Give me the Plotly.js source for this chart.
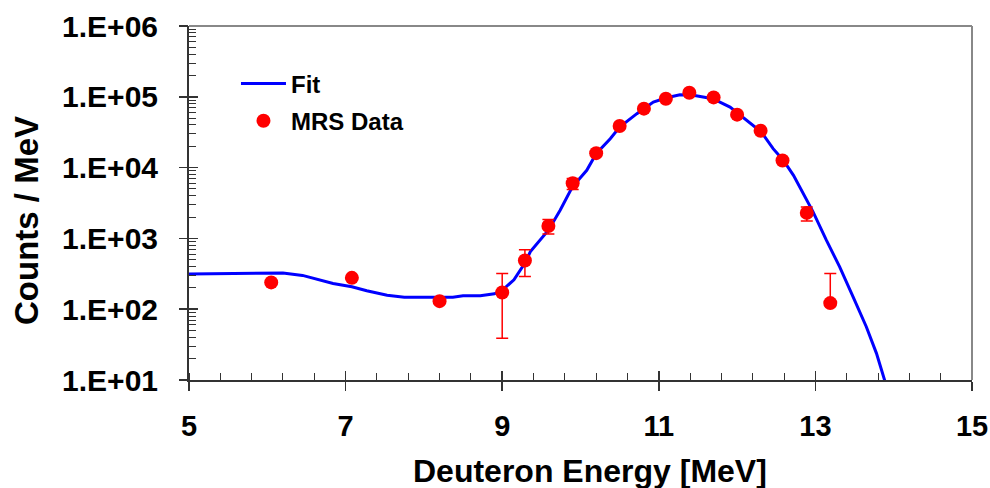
<!DOCTYPE html>
<html>
<head>
<meta charset="utf-8">
<script src="https://cdn.plot.ly/plotly-3.0.1.min.js"></script>
<style>html,body{margin:0;padding:0;background:#fff;}#chart{width:990px;height:488px;}</style>
</head>
<body>
<div id="chart"></div>
<script>
// Fit curve (Deuteron energy [MeV], counts / MeV)
const fitEnergy = [5.0, 5.3, 5.6, 5.9, 6.2, 6.45, 6.84, 7.08, 7.27, 7.53, 7.75, 8.0, 8.37, 8.5, 8.72, 8.9, 9.0, 9.15, 9.29, 9.36, 9.59, 9.74, 9.895, 10.08, 10.2, 10.38, 10.5, 10.72, 10.93, 11.1, 11.27, 11.44, 11.69, 11.91, 12.12, 12.31, 12.46, 12.59, 12.72, 12.84, 12.97, 13.14, 13.31, 13.48, 13.65, 13.78, 13.91];
const fitCounts = [315, 318, 320, 325, 325, 300, 231, 207, 182, 157, 148, 148, 148, 155, 155, 165, 185, 260, 450, 650, 1306, 2500, 5320, 9160, 15700, 25600, 37400, 57800, 84100, 97000, 107000, 105000, 94000, 71600, 46500, 31800, 18500, 12700, 7780, 4300, 2370, 944, 396, 150, 56.5, 23.8, 8];

// MRS data points
const dataEnergy = [6.05, 7.08, 8.20, 9.00, 9.29, 9.59, 9.90, 10.20, 10.50, 10.81, 11.09, 11.39, 11.70, 12.00, 12.30, 12.58, 12.89, 13.19];
const dataCounts = [239, 277, 130, 172, 488, 1500, 6000, 16000, 38600, 68000, 94000, 114000, 98000, 56000, 33200, 12600, 2290, 122];
const errPlus  = [0, 0, 0, 148, 201, 346, 1000, 0, 0, 0, 0, 0, 0, 0, 0, 0, 490, 198];
const errMinus = [0, 0, 0, 133, 198, 343, 1100, 0, 0, 0, 0, 0, 0, 0, 0, 0, 524, 0];

// Axis ticks
const xTickVals = [5, 7, 9, 11, 13, 15];
const yTickVals = [10, 100, 1000, 10000, 100000, 1000000];
const yTickText = ['1.E+01', '1.E+02', '1.E+03', '1.E+04', '1.E+05', '1.E+06'];

const FONT = 'Liberation Sans, Arial, sans-serif';
const AX = '#333';

const traces = [
  {
    x: fitEnergy, y: fitCounts, type: 'scatter', mode: 'lines', name: 'Fit', legendgroup: 'fit',
    line: {color: '#0000FF', width: 3}
  },
  {
    x: dataEnergy, y: dataCounts, type: 'scatter', mode: 'markers', name: 'MRS Data', legendgroup: 'mrs',
    marker: {color: '#FF0000', size: 14},
    error_y: {type: 'data', symmetric: false, array: errPlus, arrayminus: errMinus,
              color: '#FF0000', thickness: 1.5, width: 6}
  },
  // empty traces that hold the overlay tick axes
  {x: [], y: [], xaxis: 'x2', yaxis: 'y2', showlegend: false, hoverinfo: 'skip'},
  {x: [], y: [], xaxis: 'x', yaxis: 'y3', showlegend: false, hoverinfo: 'skip'}
];

const layout = {
  width: 990, height: 488,
  margin: {l: 189, r: 18, t: 26, b: 108},
  paper_bgcolor: '#fff', plot_bgcolor: '#fff',
  font: {family: FONT, color: '#000'},
  showlegend: true,
  legend: {
    x: 0.060, y: 0.9, xanchor: 'left', yanchor: 'top',
    font: {family: FONT, size: 24, weight: 'bold', color: '#000'},
    bgcolor: 'rgba(0,0,0,0)', tracegroupgap: 3, itemwidth: 45, traceorder: 'grouped'
  },
  xaxis: {
    range: [5, 15], showgrid: false, zeroline: false,
    showline: true, linecolor: AX, linewidth: 2,
    tickmode: 'array', tickvals: xTickVals,
    ticks: 'outside', ticklen: 9, tickwidth: 1.5, tickcolor: AX,
    tickfont: {family: FONT, size: 29, weight: 'bold', color: '#000'},
    ticklabelstandoff: 10,
    minor: {dtick: 0.4, tick0: 5, ticks: 'inside', ticklen: 7, tickwidth: 1, tickcolor: AX, showgrid: false}
  },
  // main y axis: labels pushed out by invisible long ticks
  yaxis: {
    type: 'log', range: [1, 6], showgrid: false, zeroline: false,
    showline: true, linecolor: AX, linewidth: 2,
    tickmode: 'array', tickvals: yTickVals, ticktext: yTickText,
    ticks: 'outside', ticklen: 23, tickwidth: 1, tickcolor: 'rgba(0,0,0,0)',
    tickfont: {family: FONT, size: 30, weight: 'bold', color: '#000'},
    minor: {dtick: 'D1', ticks: 'inside', ticklen: 7, tickwidth: 1, tickcolor: AX, showgrid: false}
  },
  xaxis2: {
    overlaying: 'x', anchor: 'y', side: 'bottom', range: [5, 15],
    showgrid: false, zeroline: false, showline: false,
    tickmode: 'array', tickvals: xTickVals, ticks: 'inside', ticklen: 9, tickwidth: 1.5, tickcolor: AX,
    showticklabels: false
  },
  // visible outside major ticks
  yaxis2: {
    overlaying: 'y', anchor: 'x', side: 'left', type: 'log', range: [1, 6],
    showgrid: false, zeroline: false, showline: false,
    tickmode: 'array', tickvals: yTickVals, ticks: 'outside', ticklen: 9, tickwidth: 1.5, tickcolor: AX,
    showticklabels: false
  },
  // visible inside major ticks
  yaxis3: {
    overlaying: 'y', anchor: 'x', side: 'left', type: 'log', range: [1, 6],
    showgrid: false, zeroline: false, showline: false,
    tickmode: 'array', tickvals: yTickVals, ticks: 'inside', ticklen: 9, tickwidth: 1.5, tickcolor: AX,
    showticklabels: false
  },
  shapes: [
    {type: 'line', xref: 'paper', yref: 'paper', x0: 0, x1: 1, y0: 1, y1: 1, line: {color: '#888', width: 2}},
    {type: 'line', xref: 'paper', yref: 'paper', x0: 1, x1: 1, y0: 0, y1: 1, line: {color: '#888', width: 2}}
  ],
  annotations: [
    {text: 'Deuteron Energy [MeV]', xref: 'paper', yref: 'paper', x: 0.5115, y: -0.257,
     xanchor: 'center', yanchor: 'middle', showarrow: false,
     font: {family: FONT, size: 32, weight: 'bold', color: '#000'}},
    {text: 'Counts / MeV', xref: 'paper', yref: 'paper', x: -0.2069, y: 0.452, textangle: -90,
     xanchor: 'center', yanchor: 'middle', showarrow: false,
     font: {family: FONT, size: 33, weight: 'bold', color: '#000'}}
  ]
};

Plotly.newPlot('chart', traces, layout, {displayModeBar: false, staticPlot: true});
</script>
</body>
</html>
